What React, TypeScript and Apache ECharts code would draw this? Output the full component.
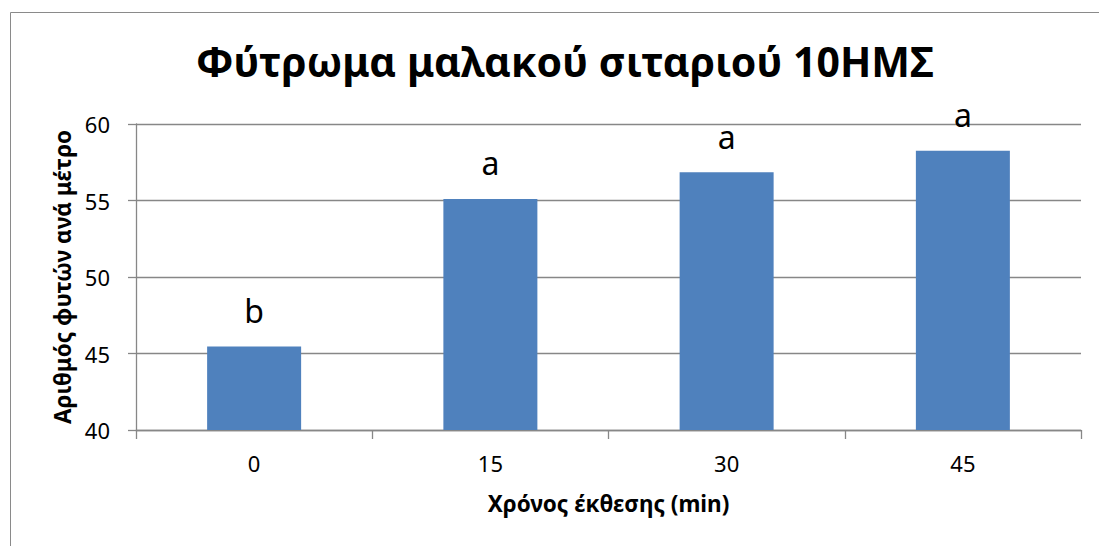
import React, { useEffect, useRef } from "react";
import * as echarts from "echarts";

// Exposure time categories (min)
const categories = ["0", "15", "30", "45"];
// Plants per metre for each exposure time
const plantsPerMetre = [45.45, 55.1, 56.85, 58.25];
// Significance letters shown above each bar
const groupLetters = ["b", "a", "a", "a"];

const titleText = "Φύτρωμα μαλακού σιταριού 10ΗΜΣ";
const xAxisTitle = "Χρόνος έκθεσης (min)";
const yAxisTitle = "Αριθμός φυτών ανά μέτρο";

const FONT = "'Noto Sans', 'Open Sans', sans-serif";
const AXIS_GRAY = "#878787";

export default function App() {
  const ref = useRef<HTMLDivElement>(null);

  useEffect(() => {
    if (!ref.current) return;
    const chart = echarts.init(ref.current, undefined, { renderer: "svg" });
    chart.setOption({
      animation: false,
      backgroundColor: "#ffffff",
      textStyle: { fontFamily: FONT },
      graphic: [
        {
          type: "rect",
          shape: { x: 10.5, y: 12.5, width: 1200, height: 700 },
          style: { fill: "none", stroke: "#8a8a8a", lineWidth: 1 },
          silent: true,
        },
      ],
      title: {
        text: titleText,
        left: 560,
        top: 35,
        textAlign: "center",
        textStyle: {
          fontFamily: FONT,
          fontSize: 41,
          fontWeight: "bold",
          color: "#000000",
        },
      },
      grid: { left: 136, right: 18, top: 124, bottom: 116 },
      xAxis: {
        type: "category",
        data: categories,
        name: xAxisTitle,
        nameLocation: "middle",
        nameGap: 62,
        nameTextStyle: {
          fontFamily: FONT,
          fontSize: 22.5,
          fontWeight: "bold",
          color: "#000000",
        },
        axisLine: { lineStyle: { color: AXIS_GRAY, width: 1.3 } },
        axisTick: {
          show: true,
          alignWithLabel: false,
          length: 9,
          lineStyle: { color: AXIS_GRAY, width: 1.3 },
        },
        axisLabel: {
          margin: 22,
          fontFamily: FONT,
          fontSize: 22,
          color: "#000000",
        },
      },
      yAxis: {
        type: "value",
        min: 40,
        max: 60,
        interval: 5,
        name: yAxisTitle,
        nameLocation: "middle",
        nameRotate: 90,
        nameGap: 60,
        nameTextStyle: {
          fontFamily: FONT,
          fontSize: 22.5,
          fontWeight: "bold",
          color: "#000000",
        },
        axisLine: { show: true, lineStyle: { color: AXIS_GRAY, width: 1.3 } },
        axisTick: {
          show: true,
          length: 8,
          lineStyle: { color: AXIS_GRAY, width: 1.3 },
        },
        axisLabel: {
          margin: 26,
          fontFamily: FONT,
          fontSize: 22,
          color: "#000000",
        },
        splitLine: { lineStyle: { color: AXIS_GRAY, width: 1.3 } },
      },
      series: [
        {
          type: "bar",
          data: plantsPerMetre,
          barWidth: 94,
          itemStyle: { color: "#4F81BD" },
          label: {
            show: true,
            position: "top",
            distance: 20,
            formatter: (p: any) => groupLetters[p.dataIndex],
            fontFamily: FONT,
            fontSize: 32,
            color: "#000000",
          },
        },
      ],
    });
    return () => chart.dispose();
  }, []);

  return (
    <div
      ref={ref}
      style={{ position: "fixed", left: 0, top: 0, width: 1099, height: 546 }}
    />
  );
}
